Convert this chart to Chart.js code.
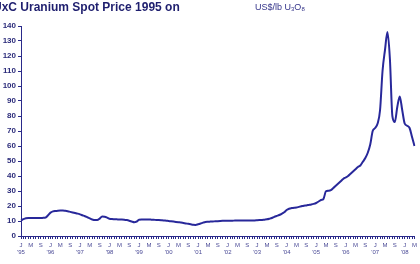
<!DOCTYPE html>
<html>
<head>
<meta charset="utf-8">
<script src="https://cdn.jsdelivr.net/npm/chart.js@4.4.1/dist/chart.umd.min.js"></script>
<style>
  html, body { margin: 0; padding: 0; background: #ffffff; }
  #wrap { position: relative; width: 420px; height: 264px; overflow: hidden; background: #fff; }
  #title { position: absolute; left: -7px; top: 0px; font: bold 12px "Liberation Sans", Arial, sans-serif; color: #1e1e6e; white-space: nowrap; }
  #unit { position: absolute; left: 255px; top: 2px; font: 9px "Liberation Sans", Arial, sans-serif; color: #34348a; white-space: nowrap; }
  #unit sub { font-size: 6px; vertical-align: -1px; }
  canvas { position: absolute; left: 0; top: 0; }
</style>
</head>
<body>
<div id="wrap">
  <canvas id="c" width="420" height="264"></canvas>
  <div id="title">UxC Uranium Spot Price 1995 on</div>
  <div id="unit">US$/lb U<sub>3</sub>O<sub>8</sub></div>
</div>
<script>
// Tick label pieces
const monthLetters = ['J','F','M','A','M','J','J','A','S','O','N','D'];
const yearLabels = ["'95","'96","'97","'98","'99","'00","'01","'02","'03","'04","'05","'06","'07","'08"];

// Monthly spot price, US$/lb U3O8
const p1995 = [10.3, 11.2, 11.8, 12.0, 12.0, 12.0, 12.0, 12.0, 12.0, 12.1, 12.3, 13.8];
const p1996 = [15.6, 16.4, 16.7, 16.9, 17.0, 17.0, 16.8, 16.5, 16.1, 15.7, 15.3, 14.9];
const p1997 = [14.4, 13.8, 13.2, 12.5, 11.8, 11.0, 10.6, 10.6, 11.6, 13.0, 12.9, 12.3];
const p1998 = [11.5, 11.3, 11.2, 11.1, 11.0, 11.0, 10.9, 10.6, 10.2, 9.7, 9.2, 9.6];
const p1999 = [10.9, 11.0, 11.0, 11.0, 11.0, 10.9, 10.8, 10.7, 10.6, 10.5, 10.4, 10.2];
const p2000 = [10.0, 9.8, 9.6, 9.4, 9.2, 9.0, 8.7, 8.4, 8.1, 7.8, 7.5, 7.4];
const p2001 = [7.8, 8.3, 8.9, 9.4, 9.5, 9.6, 9.7, 9.8, 9.9, 10.0, 10.1, 10.2];
const p2002 = [10.2, 10.2, 10.2, 10.3, 10.3, 10.3, 10.3, 10.3, 10.4, 10.4, 10.4, 10.4];
const p2003 = [10.5, 10.6, 10.7, 10.9, 11.1, 11.5, 12.0, 12.8, 13.4, 14.0, 14.8, 15.8];
const p2004 = [17.3, 18.2, 18.6, 18.8, 19.0, 19.4, 19.8, 20.2, 20.4, 20.7, 21.0, 21.4];
const p2005 = [22.0, 23.0, 24.0, 24.8, 29.8, 30.2, 30.6, 32.0, 33.5, 35.0, 36.5, 38.0];
const p2006 = [39.0, 40.0, 41.5, 43.0, 44.5, 46.0, 47.0, 49.5, 52.0, 55.5, 61.0, 70.0];
const p2007 = [72.0, 75.0, 84.0, 110.0, 124.0, 136.0, 118.0, 80.0, 76.0, 86.0, 93.0, 84.0];
const p2008 = [75.0, 73.5, 72.0, 66.0, 60.0];

const yearSeries = [p1995,p1996,p1997,p1998,p1999,p2000,p2001,p2002,p2003,p2004,p2005,p2006,p2007,p2008];

const labels = [];
const values = [];
yearSeries.forEach((arr, yi) => {
  arr.forEach((v, mi) => {
    labels.push(mi === 0 ? [monthLetters[mi], yearLabels[yi]] : monthLetters[mi]);
    values.push(v);
  });
});

const navy = '#2a2a8a';
const lineColor = '#28289a';

new Chart(document.getElementById('c'), {
  type: 'line',
  data: {
    labels: labels,
    datasets: [{
      data: values,
      borderColor: lineColor,
      borderWidth: 2,
      pointRadius: 0,
      cubicInterpolationMode: 'monotone',
      fill: false
    }]
  },
  options: {
    responsive: false,
    animation: false,
    events: [],
    layout: { padding: { top: 26, right: 4, left: 0, bottom: 0 } },
    plugins: { legend: { display: false }, tooltip: { enabled: false }, title: { display: false } },
    scales: {
      x: {
        type: 'category',
        afterFit: (s) => { s.height = 28; },
        border: { display: true, color: navy, width: 1 },
        grid: { drawOnChartArea: false, drawTicks: true, tickLength: 3, color: navy },
        ticks: {
          autoSkip: false,
          maxRotation: 0,
          minRotation: 0,
          padding: 3,
          color: '#4a4a96',
          font: { family: '"Liberation Sans", Arial, sans-serif', size: 6, lineHeight: 1.1 },
          callback: function(val, idx) {
            return idx % 4 === 0 ? this.getLabelForValue(val) : '';
          }
        }
      },
      y: {
        min: 0,
        max: 140,
        afterFit: (s) => { s.width = 21; },
        border: { display: true, color: navy, width: 1 },
        grid: { drawOnChartArea: false, drawTicks: true, tickLength: 3, color: navy },
        ticks: {
          stepSize: 10,
          padding: 2,
          color: '#2b2b7a',
          font: { family: '"Liberation Sans", Arial, sans-serif', size: 8, weight: 'bold' }
        }
      }
    }
  }
});
</script>
</body>
</html>
